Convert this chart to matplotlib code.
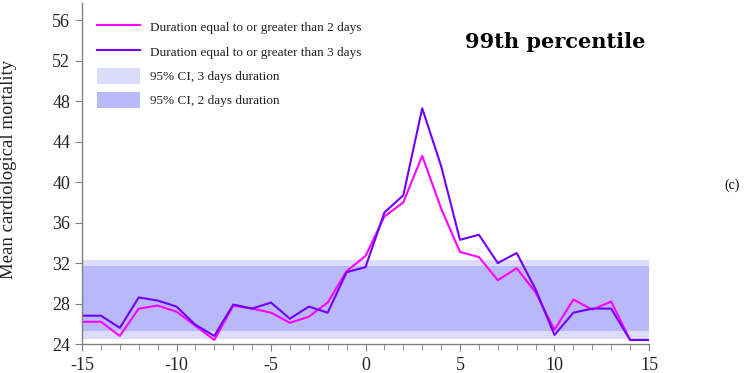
import numpy as np
import matplotlib
matplotlib.use("Agg")
import matplotlib.pyplot as plt
from matplotlib.patches import Patch
from matplotlib.lines import Line2D
from matplotlib.ticker import MultipleLocator

plt.rcParams['font.family'] = ['Liberation Serif', 'DejaVu Serif']
plt.rcParams['axes.unicode_minus'] = False

# lag days
days = list(range(-15, 16))
# mean cardiological mortality, heatwave duration >= 2 days
dur2 = [26.2, 26.2, 24.8, 27.5, 27.8, 27.2, 25.8, 24.4, 27.8, 27.5, 27.1, 26.1, 26.7, 28.1, 31.2,
        32.7, 36.6, 38.0, 42.6, 37.4, 33.1, 32.6, 30.3, 31.5, 29.1, 25.4, 28.4, 27.4, 28.2, 24.4, 24.4]
# duration >= 3 days
dur3 = [26.8, 26.8, 25.6, 28.6, 28.3, 27.7, 25.9, 24.8, 27.9, 27.5, 28.1, 26.5, 27.7, 27.1, 31.1,
        31.6, 37.0, 38.7, 47.3, 41.6, 34.3, 34.8, 32.0, 33.0, 29.4, 24.9, 27.1, 27.5, 27.5, 24.4, 24.4]
# 95% confidence intervals (low, high)
ci3 = (24.5, 32.3)
ci2 = (25.3, 31.7)

c2 = '#ff00ff'
c3 = '#7000ff'
band3 = '#dcdcfa'
band2 = '#b9b9f9'
grey = '#808080'

fig = plt.figure(figsize=(7.47, 3.73), dpi=100)
ax = fig.add_axes([0.1098, 0.0777, 0.759, 0.914])

ax.fill_between([days[0], days[-1]], ci3[0], ci3[1], color=band3, lw=0)
ax.fill_between([days[0], days[-1]], ci2[0], ci2[1], color=band2, lw=0)
ax.plot(days, dur2, color=c2, lw=1.5)
ax.plot(days, dur3, color=c3, lw=1.5)

ax.set_xlim(-15, 15)
ax.set_ylim(24, 57.7)
ax.set_yticks(range(24, 57, 4))
ax.xaxis.set_major_locator(MultipleLocator(5))
ax.xaxis.set_minor_locator(MultipleLocator(1))

for s in ['top', 'right']:
    ax.spines[s].set_visible(False)
for s in ['left', 'bottom']:
    ax.spines[s].set_color(grey)
    ax.spines[s].set_linewidth(1)
ax.tick_params(which='both', colors=grey, labelcolor='#222222', labelsize=13)
ax.tick_params(which='major', length=5)
ax.tick_params(which='minor', length=4)
ax.tick_params(axis='x', pad=4)

fig.text(0.011, 0.547, 'Mean cardiological mortality', fontsize=13.5, color='#222222',
         rotation=90, ha='center', va='center')

handles = [Line2D([], [], color=c2, lw=1.5),
           Line2D([], [], color=c3, lw=1.5),
           Patch(facecolor=band3, edgecolor='none'),
           Patch(facecolor=band2, edgecolor='none')]
labels = ['Duration equal to or greater than 2 days',
          'Duration equal to or greater than 3 days',
          '95% CI, 3 days duration',
          '95% CI, 2 days duration']
ax.legend(handles, labels, loc='upper left', bbox_to_anchor=(0.005, 0.988), frameon=False,
          fontsize=9.5, handlelength=3.3, handleheight=1.5, labelspacing=0.62, handletextpad=0.75,
          labelcolor='#222222')

fig.text(0.743, 0.887, '99th percentile', fontsize=15, fontweight='bold', ha='center', va='center',
         family='DejaVu Serif')
fig.text(0.98, 0.503, '(c)', fontsize=10, ha='center', va='center')

fig.savefig('out.png', dpi=100)
